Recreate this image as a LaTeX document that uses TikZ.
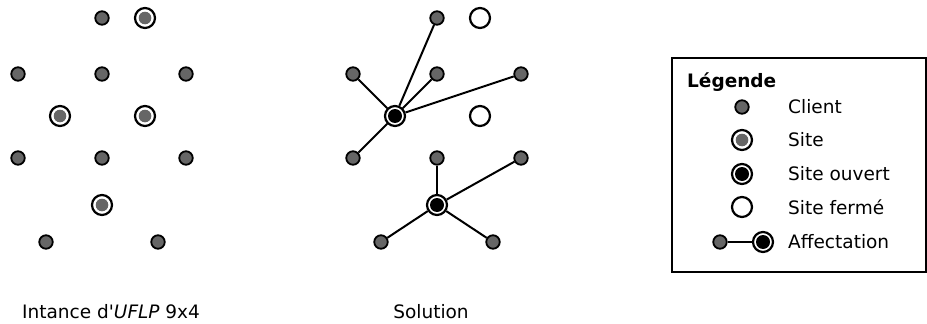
\documentclass[tikz,border=0pt]{standalone}
\usepackage{fontspec}
\setmainfont{DejaVu Sans}[Ligatures=TeXOff]
\usetikzlibrary{positioning}
\definecolor{clientgray}{HTML}{666666}
\tikzset{
  client/.style={circle,draw,fill=clientgray,line width=1.8pt,minimum size=13.5pt,inner sep=0pt},
  closedsite/.style={circle,draw,fill=white,line width=2.2pt,minimum size=20pt,inner sep=0pt},
  site/.style={closedsite,path picture={\fill[clientgray] (path picture bounding box.center) circle (6.3pt);}},
  opensite/.style={closedsite,path picture={\fill[black] (path picture bounding box.center) circle (7pt);}},
  affect/.style={line width=2pt},
  legtext/.style={anchor=west,inner sep=0pt,font=\fontsize{18.5}{22}\selectfont}
}
\begin{document}
\begin{tikzpicture}[x=1pt,y=-1pt]
    \useasboundingbox (0,0) rectangle (927,324);
    % instance
    \node[client] (c1) at (102,18) {};
    \node[site] (s1) at (145,18) {};
    \node[client] (c2) at (18,74) {};
    \node[client] (c3) at (102,74) {};
    \node[client] (c4) at (186,74) {};
    \node[site] (s2) at (60,116) {};
    \node[site] (s3) at (145,116) {};
    \node[client] (c5) at (18,158) {};
    \node[client] (c6) at (102,158) {};
    \node[client] (c7) at (186,158) {};
    \node[site] (s4) at (102,205) {};
    \node[client] (c8) at (46,242) {};
    \node[client] (c9) at (158,242) {};
    \node[legtext] (inst) at (22,312) {Intance d'\textit{UFLP} 9x4};
    % solution
    \node[client] (d1) at (437,18) {};
    \node[closedsite] (f1) at (480,18) {};
    \node[client] (d2) at (353,74) {};
    \node[client] (d3) at (437,74) {};
    \node[client] (d4) at (521,74) {};
    \node[opensite] (o1) at (395,116) {};
    \node[closedsite] (f2) at (480,116) {};
    \node[client] (d5) at (353,158) {};
    \node[client] (d6) at (437,158) {};
    \node[client] (d7) at (521,158) {};
    \node[opensite] (o2) at (437,205) {};
    \node[client] (d8) at (381,242) {};
    \node[client] (d9) at (493,242) {};
    \draw[affect] (o1) -- (d1);
    \draw[affect] (o1) -- (d2);
    \draw[affect] (o1) -- (d3);
    \draw[affect] (o1) -- (d4);
    \draw[affect] (o1) -- (d5);
    \draw[affect] (o2) -- (d6);
    \draw[affect] (o2) -- (d7);
    \draw[affect] (o2) -- (d8);
    \draw[affect] (o2) -- (d9);
    \node[legtext,anchor=center] (sol) at (431,312) {Solution};
    % legend
    \draw[line width=1.8pt] (672,58) rectangle (926,272);
    \node[legtext,font=\fontsize{18.5}{22}\selectfont\bfseries] (leg) at (687,82) {Légende};
    \node[client] (lc) at (742,107) {};
    \node[site] (ls) at (742,140) {};
    \node[opensite] (lo) at (742,174) {};
    \node[closedsite] (lf) at (742,207) {};
    \node[client] (la1) at (720,242) {};
    \node[opensite] (la2) at (763,242) {};
    \draw[affect] (la1) -- (la2);
    \node[legtext] (tc) at (788,107) {Client};
    \node[legtext] (ts) at (788,140) {Site};
    \node[legtext] (to) at (788,174) {Site ouvert};
    \node[legtext] (tf) at (788,207) {Site fermé};
    \node[legtext] (ta) at (788,242) {Affectation};
\end{tikzpicture}
\end{document}
